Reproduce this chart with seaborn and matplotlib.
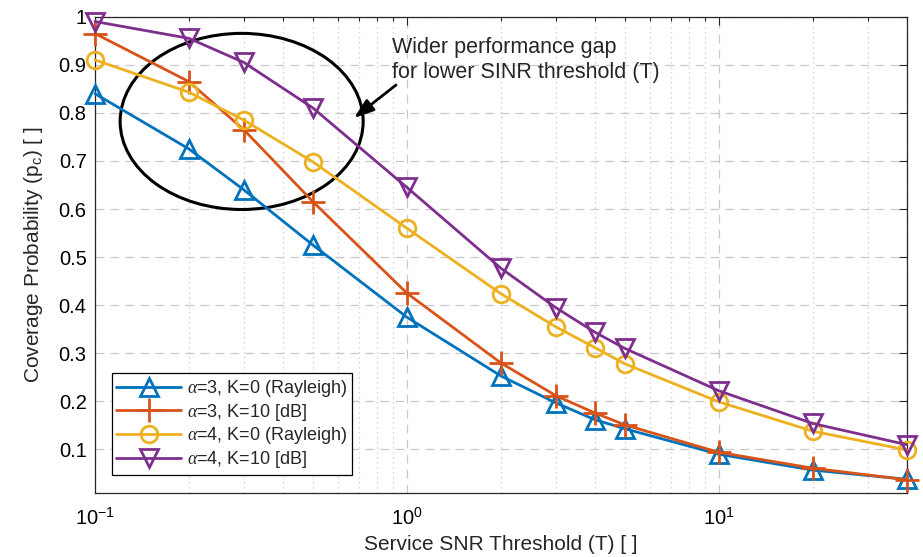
import numpy as np
import pandas as pd
import matplotlib
matplotlib.use("Agg")
import matplotlib.pyplot as plt
import seaborn as sns
from matplotlib.patches import Ellipse
from matplotlib.ticker import LogLocator, NullFormatter

# ---- data ----
T = [0.1, 0.2, 0.3, 0.5, 1, 2, 3, 4, 5, 10, 20, 40]
a3_k0 = [0.84, 0.725, 0.64, 0.525, 0.375, 0.253, 0.197, 0.162, 0.143, 0.09, 0.057, 0.038]
a3_k10 = [0.965, 0.865, 0.765, 0.615, 0.425, 0.28, 0.212, 0.176, 0.151, 0.094, 0.061, 0.037]
a4_k0 = [0.91, 0.843, 0.785, 0.698, 0.56, 0.424, 0.355, 0.312, 0.278, 0.199, 0.138, 0.099]
a4_k10 = [0.99, 0.955, 0.905, 0.81, 0.645, 0.477, 0.395, 0.344, 0.31, 0.222, 0.154, 0.11]
labels = [r"$\alpha$=3, K=0 (Rayleigh)", r"$\alpha$=3, K=10 [dB]",
          r"$\alpha$=4, K=0 (Rayleigh)", r"$\alpha$=4, K=10 [dB]"]
colors = ["#0072BD", "#D95319", "#EDB120", "#7E2F8E"]
markers = ["^", "+", "o", "v"]
msizes = [13, 17, 12, 13]

sns.set_theme(style="white")
plt.rcParams['font.family'] = ['Liberation Sans', 'DejaVu Sans']
plt.rcParams['mathtext.fontset'] = 'custom'
plt.rcParams['mathtext.rm'] = 'Liberation Sans'
plt.rcParams['mathtext.it'] = 'Liberation Serif:italic'

fig = plt.figure(figsize=(9.23, 5.57), dpi=100)
ax = fig.add_axes([0.1029, 0.1154, 0.8794, 0.8546])

series = [a3_k0, a3_k10, a4_k0, a4_k10]
for vals, lab, c, m, ms in zip(series, labels, colors, markers, msizes):
    df = pd.DataFrame({"T": T, "pc": vals})
    sns.lineplot(data=df, x="T", y="pc", ax=ax, color=c, lw=2.0,
                 marker=m, markersize=ms, markerfacecolor='none',
                 markeredgecolor=c, markeredgewidth=2.0, label=lab,
                 clip_on=False, zorder=3)

ax.set_xscale('log')
ax.set_xlim(0.1, 40)
ax.set_ylim(0.01, 1.0)
ax.set_yticks([0.1, 0.2, 0.3, 0.4, 0.5, 0.6, 0.7, 0.8, 0.9, 1.0])
ax.set_yticklabels(["0.1", "0.2", "0.3", "0.4", "0.5", "0.6", "0.7", "0.8", "0.9", "1"])
ax.xaxis.set_major_locator(LogLocator(base=10, numticks=10))
ax.xaxis.set_minor_locator(LogLocator(base=10, subs=np.arange(2, 10), numticks=10))
ax.xaxis.set_minor_formatter(NullFormatter())

ax.grid(which='major', axis='both', color='#c8c8c8', linestyle=(0, (7, 5)), lw=0.9)
ax.grid(which='minor', axis='x', color='#c8c8c8', linestyle=(0, (1, 3)), lw=0.9)
ax.set_axisbelow(True)
ax.tick_params(which='both', direction='in', top=True, right=True, colors='#262626',
               labelsize=14.5, labelcolor='black')
ax.tick_params(which='major', length=6, width=0.8)
ax.tick_params(which='minor', length=3, width=0.8)
ax.tick_params(axis='x', pad=10)
ax.tick_params(axis='y', pad=6)
for s in ax.spines.values():
    s.set_color('#262626')
    s.set_linewidth(0.9)

ax.set_xlabel("Service SNR Threshold (T) [ ]", fontsize=15, labelpad=5)
ax.set_ylabel(r"Coverage Probability (p$_\mathregular{c}$) [ ]", fontsize=15, labelpad=10)

leg = ax.legend(loc='lower left', bbox_to_anchor=(0.0205, 0.038), fontsize=13,
                frameon=True, fancybox=False, edgecolor='black', framealpha=1,
                handlelength=3.6, handletextpad=0.3, borderpad=0.25, labelspacing=0.15,
                borderaxespad=0)
leg.get_frame().set_linewidth(0.9)

ell = Ellipse((0.1807, 0.780), 0.2994, 0.37, transform=ax.transAxes,
              fill=False, edgecolor='black', lw=2.2)
ax.add_patch(ell)
ax.annotate("", xy=(354, 557 - 118), xycoords='figure pixels',
            xytext=(396, 557 - 85), textcoords='figure pixels',
            arrowprops=dict(arrowstyle='-|>,head_length=1.0,head_width=0.35',
                            color='black', lw=2.0, shrinkA=0, shrinkB=0))
fig.text(392 / 923, 1 - 60 / 557, "Wider performance gap\nfor lower SINR threshold (T)",
         fontsize=15.5, ha='left', va='center', linespacing=1.3)

fig.savefig("out.png", dpi=100)
